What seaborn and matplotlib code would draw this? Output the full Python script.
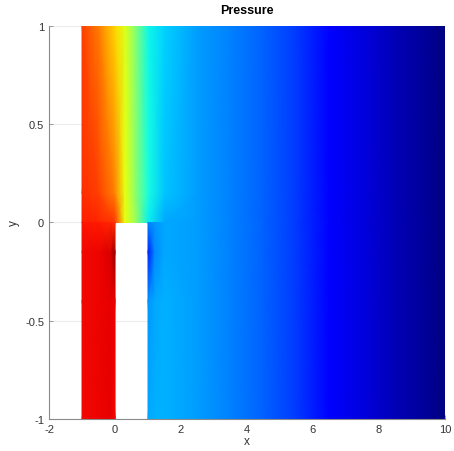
import numpy as np
import matplotlib
matplotlib.use("Agg")
import matplotlib.pyplot as plt
import seaborn as sns

# pressure (jet scale, 0 = outlet, 1 = max)
# upper channel, x in [-1, 10], rows at y = 0, 0.15, 1
x_up = [-1.0, -0.5, 0.0, 0.3, 0.6, 1.0, 1.5, 2.5, 3.5, 4.5, 5.5, 6.5, 7.5, 8.5, 9.5, 10.0]
y_up = [0.0, 0.15, 1.0]
p_up = [
    [0.88, 0.87, 0.85, 0.63, 0.55, 0.36, 0.29, 0.28, 0.25, 0.22, 0.18, 0.12, 0.085, 0.05, 0.02, 0.0],
    [0.86, 0.84, 0.77, 0.63, 0.53, 0.38, 0.32, 0.28, 0.25, 0.22, 0.18, 0.12, 0.085, 0.05, 0.02, 0.0],
    [0.84, 0.78, 0.68, 0.62, 0.52, 0.37, 0.33, 0.28, 0.25, 0.22, 0.18, 0.12, 0.085, 0.05, 0.02, 0.0],
]

# lower left inlet leg, x in [-1, 0], rows at y = -1, -0.4, -0.15, 0
x_ll = [-1.0, -0.5, -0.15, 0.0]
y_ll = [-1.0, -0.4, -0.15, 0.0]
p_ll = [
    [0.90, 0.905, 0.91, 0.90],
    [0.90, 0.905, 0.91, 0.91],
    [0.90, 0.905, 0.92, 0.98],
    [0.89, 0.88, 0.87, 0.86],
]

# lower right channel behind the step, x in [1, 10], rows at y = -1, -0.4, -0.15, 0
x_lr = [1.0, 1.2, 1.5, 2.5, 3.5, 4.5, 5.5, 6.5, 7.5, 8.5, 9.5, 10.0]
y_lr = [-1.0, -0.4, -0.15, 0.0]
p_lr = [
    [0.29, 0.30, 0.30, 0.28, 0.25, 0.22, 0.18, 0.12, 0.085, 0.05, 0.02, 0.0],
    [0.27, 0.29, 0.30, 0.28, 0.25, 0.22, 0.18, 0.12, 0.085, 0.05, 0.02, 0.0],
    [0.15, 0.26, 0.29, 0.28, 0.25, 0.22, 0.18, 0.12, 0.085, 0.05, 0.02, 0.0],
    [0.26, 0.27, 0.29, 0.28, 0.25, 0.22, 0.18, 0.12, 0.085, 0.05, 0.02, 0.0],
]

x_ticks = [-2, 0, 2, 4, 6, 8, 10]
y_ticks = [-1, -0.5, 0, 0.5, 1]
y_tick_labels = ["-1", "-0.5", "0", "0.5", "1"]

sns.set_style("ticks", {"xtick.direction": "in", "ytick.direction": "in"})
plt.rcParams["font.family"] = ["Liberation Sans", "DejaVu Sans"]

fig = plt.figure(figsize=(4.54, 4.52), dpi=100)
ax = fig.add_axes([0.108, 0.0708, 0.872, 0.8695])

for xs, ys, ps in [(x_up, y_up, p_up), (x_ll, y_ll, p_ll), (x_lr, y_lr, p_lr)]:
    X, Y = np.meshgrid(xs, ys)
    ax.pcolormesh(X, Y, np.array(ps), cmap="jet", vmin=0, vmax=1,
                  shading="gouraud", antialiased=False, zorder=2)

ax.set_xlim(-2, 10)
ax.set_ylim(-1, 1)
ax.set_xticks(x_ticks)
ax.set_xticklabels([str(t) for t in x_ticks])
ax.set_yticks(y_ticks)
ax.set_yticklabels(y_tick_labels)
ax.grid(True, color="#ececec", linewidth=0.8, zorder=0)
ax.set_axisbelow(True)

for side in ["top", "right"]:
    ax.spines[side].set_visible(False)
for side in ["left", "bottom"]:
    ax.spines[side].set_color("#8a8a8a")
    ax.spines[side].set_linewidth(0.8)
    ax.spines[side].set_zorder(3)
ax.tick_params(colors="#8a8a8a", labelcolor="#333333", labelsize=8, length=3, width=0.6)

ax.set_title("Pressure", fontsize=9, fontweight="bold", color="black", pad=9)
ax.set_xlabel("x", fontsize=8.5, color="#333333", labelpad=1)
ax.set_ylabel("y", fontsize=8.5, color="#333333", labelpad=4)

fig.savefig("out.png", dpi=100)
